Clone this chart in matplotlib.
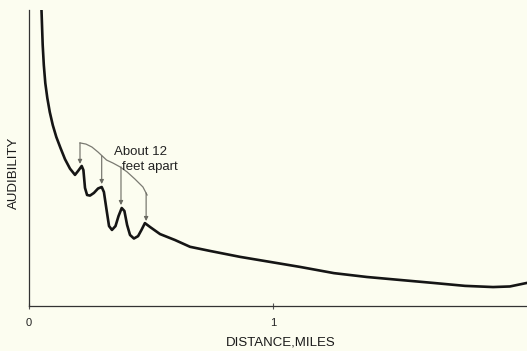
import matplotlib.pyplot as plt

# audibility curve, distance in miles
dist = [0.0512, 0.0533, 0.0561, 0.0607, 0.0668, 0.075, 0.0852, 0.0975, 0.1119, 0.129,
        0.1475, 0.168, 0.1885, 0.201, 0.216,
        0.223, 0.2295, 0.238, 0.25, 0.266, 0.283, 0.298, 0.307, 0.318, 0.328,
        0.340, 0.3545, 0.367, 0.380, 0.391, 0.402, 0.414, 0.430, 0.447, 0.461,
        0.475, 0.496, 0.537, 0.598, 0.660, 0.742, 0.865, 0.988, 1.111, 1.25,
        1.385, 1.52, 1.656, 1.787, 1.902, 1.971, 2.041]
audibility = [100.0, 94.9, 88.2, 81.4, 75.3, 70.3, 65.5, 61.1, 57.1, 53.4,
              49.6, 46.4, 44.3, 45.6, 47.3,
              45.9, 39.9, 37.5, 37.3, 38.2, 39.7, 40.2, 38.5, 32.4, 27.0,
              25.7, 27.0, 30.4, 33.1, 32.1, 27.4, 24.0, 22.8, 23.6, 25.7,
              28.0, 26.7, 24.3, 22.3, 20.0, 18.6, 16.6, 14.9, 13.2, 11.1,
              9.8, 8.8, 7.8, 6.8, 6.4, 6.6, 7.8]

# bracket over the bumps
brace_x = [0.209, 0.2336, 0.258, 0.283, 0.318, 0.344, 0.373, 0.402, 0.434, 0.467, 0.484]
brace_y = [55.1, 54.7, 53.7, 52.0, 49.3, 48.3, 47.0, 45.3, 42.9, 40.2, 37.5]

# arrows: x, start, tip
arrow_x = [0.209, 0.298, 0.377, 0.480]
arrow_top = [55.1, 50.7, 47.0, 38.2]
arrow_tip = [48.0, 41.2, 34.1, 28.7]

bg = '#fcfdf0'
plt.rcParams['font.family'] = ['Liberation Sans', 'DejaVu Sans']

fig = plt.figure(figsize=(5.27, 3.51), dpi=100, facecolor=bg)
ax = fig.add_axes([29 / 527, 45 / 351, 498 / 527, 296 / 351])
ax.set_facecolor(bg)

ax.plot(dist, audibility, color='#151515', lw=1.9, solid_capstyle='round',
        solid_joinstyle='round')
ax.plot(brace_x, brace_y, color='#7a7a72', lw=0.9)
for x, y0, y1 in zip(arrow_x, arrow_top, arrow_tip):
    ax.annotate('', xy=(x, y1), xytext=(x, y0),
                arrowprops=dict(arrowstyle='-|>', color='#6a6a62', lw=0.8,
                                mutation_scale=6, shrinkA=0, shrinkB=0))

ax.text(0.455, 52.0, 'About 12', fontsize=9.5, ha='center', va='center', color='#222')
ax.text(0.496, 47.1, 'feet apart', fontsize=9.5, ha='center', va='center', color='#222')

ax.set_xlim(0, 2.041)
ax.set_ylim(0, 100)
for s in ['top', 'right']:
    ax.spines[s].set_visible(False)
for s in ['left', 'bottom']:
    ax.spines[s].set_color('#333')
    ax.spines[s].set_linewidth(0.9)

ax.set_xticks([0, 1])
ax.set_xticklabels(['0', '1'])
ax.set_yticks([])
ax.tick_params(axis='x', direction='inout', length=4, width=0.8, color='#555',
               labelsize=8, pad=7, labelcolor='#222')
ax.set_xlabel('DISTANCE,MILES', fontsize=9.5, color='#1a1a1a')
ax.set_ylabel('AUDIBILITY', fontsize=9.5, color='#1a1a1a')
ax.xaxis.label.set_va('center')
ax.yaxis.label.set_va('center')
ax.xaxis.set_label_coords(0.506, -0.122)
ax.yaxis.set_label_coords(-0.030, 0.449)

fig.savefig('out.png', dpi=100, facecolor=bg)
